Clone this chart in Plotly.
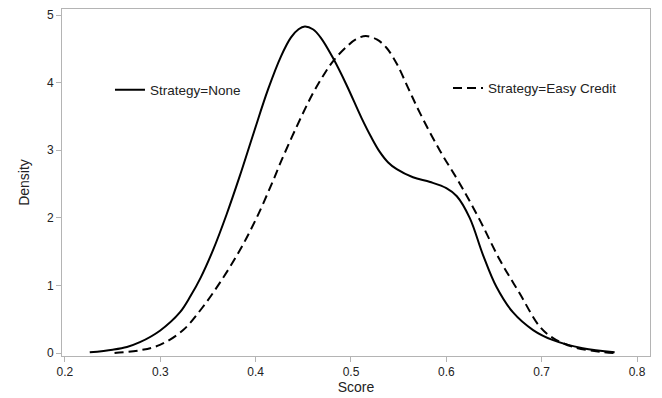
import plotly.graph_objects as go

# Kernel density estimates
none_x = [0.226, 0.25, 0.265, 0.2786, 0.2996, 0.3205, 0.332, 0.3425, 0.3555, 0.3695, 0.3834,
          0.398, 0.413, 0.4266, 0.4371, 0.445, 0.4516, 0.460, 0.4686, 0.4813, 0.4952, 0.511,
          0.521, 0.530, 0.539, 0.548, 0.565, 0.583, 0.600, 0.611, 0.6245, 0.6385, 0.6525,
          0.670, 0.691, 0.712, 0.743, 0.7765]
none_y = [0.01, 0.05, 0.09, 0.16, 0.33, 0.60, 0.85, 1.12, 1.53, 2.05, 2.62,
          3.26, 3.90, 4.39, 4.67, 4.79, 4.83, 4.79, 4.66, 4.36, 3.97, 3.48,
          3.20, 2.98, 2.82, 2.72, 2.60, 2.53, 2.44, 2.32, 2.00, 1.45, 0.98,
          0.60, 0.34, 0.19, 0.07, 0.01]

easy_x = [0.252, 0.2786, 0.2996, 0.324, 0.344, 0.3634, 0.3834, 0.401, 0.4183, 0.4271, 0.448,
          0.460, 0.4707, 0.4813, 0.4952, 0.505, 0.5155, 0.527, 0.537, 0.548, 0.560, 0.572,
          0.593, 0.614, 0.635, 0.656, 0.677, 0.698, 0.712, 0.733, 0.761, 0.7765]
easy_y = [0.0, 0.04, 0.12, 0.34, 0.67, 1.06, 1.52, 2.00, 2.55, 2.85, 3.50,
          3.84, 4.10, 4.32, 4.53, 4.64, 4.69, 4.64, 4.52, 4.28, 3.92, 3.56,
          3.0, 2.51, 1.97, 1.38, 0.88, 0.39, 0.22, 0.09, 0.02, 0.0]

x_ticks = [0.2, 0.3, 0.4, 0.5, 0.6, 0.7, 0.8]
y_ticks = [0, 1, 2, 3, 4, 5]

FONT = "Liberation Sans, Arial, sans-serif"
AX = "#b4b4b4"
TXT = "#222"

fig = go.Figure()
fig.add_trace(go.Scatter(x=none_x, y=none_y, mode="lines", name="Strategy=None",
                         line=dict(color="black", width=2, shape="spline", smoothing=1.0),
                         legend="legend", showlegend=True))
fig.add_trace(go.Scatter(x=easy_x, y=easy_y, mode="lines", name="Strategy=Easy Credit",
                         line=dict(color="black", width=2, dash="9px,5px", shape="spline", smoothing=1.0),
                         legend="legend2", showlegend=True))

axis_common = dict(showgrid=False, zeroline=False, showline=True, linecolor=AX, linewidth=1,
                   mirror=True, ticks="outside", ticklen=5, tickcolor=AX, tickwidth=1,
                   automargin=True,
                   tickfont=dict(family=FONT, size=12, color=TXT))

# The page body adds an 8px offset, so the figure is sized to fill the rest of the window
fig.update_layout(
    width=654, height=390,
    margin=dict(l=54, r=12, t=1, b=42),
    paper_bgcolor="white", plot_bgcolor="white",
    showlegend=True,
    font=dict(family=FONT, size=12, color=TXT),
    xaxis=dict(range=[0.1969, 0.8136], tickvals=x_ticks,
               title=dict(text="Score", font=dict(family=FONT, size=14, color=TXT), standoff=3),
               **axis_common),
    yaxis=dict(range=[-0.044, 5.09], tickvals=y_ticks,
               title=dict(text="Density", font=dict(family=FONT, size=14, color=TXT), standoff=14),
               **axis_common),
    legend=dict(x=0.0816, y=0.7666, xanchor="left", yanchor="middle", bgcolor="rgba(0,0,0,0)",
                font=dict(family=FONT, size=13.5, color=TXT)),
    legend2=dict(x=0.6565, y=0.772, xanchor="left", yanchor="middle", bgcolor="rgba(0,0,0,0)",
                 font=dict(family=FONT, size=13.5, color=TXT)),
)

fig.write_html("out.html")
